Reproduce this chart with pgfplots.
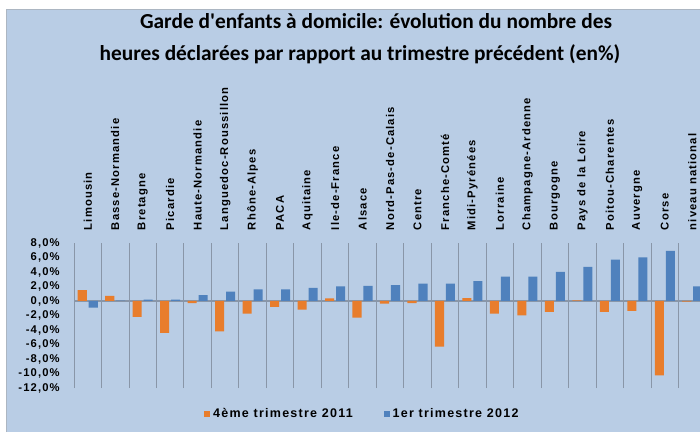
\documentclass[border=0pt]{standalone}
\usepackage{fontspec}
\usepackage{pgfplots}
\pgfplotsset{compat=1.18}
\setmainfont{Liberation Sans}
\newfontfamily\titlefont{Carlito Bold}
\newfontfamily\labfont[LetterSpace=10]{Liberation Sans Bold}

\definecolor{bgblue}{RGB}{185,205,229}
\definecolor{gridgray}{RGB}{137,150,168}
\definecolor{serA}{RGB}{232,125,44}
\definecolor{serB}{RGB}{79,129,189}

\newcommand{\lab}{\labfont\fontsize{8}{9}\selectfont}
\newcommand{\legfont}{\labfont\fontsize{8.9}{10}\selectfont}

\begin{document}
\begin{tikzpicture}
\useasboundingbox (0,0) rectangle (17.5,10.8);
\fill[white] (0,0) rectangle (17.5,10.8);
\fill[bgblue] (0.15,0) rectangle (17.5,10.575);
\draw[gridgray!70, line width=0.6pt] (0.15,0) -- (0.15,10.575) -- (17.5,10.575);

\node[font=\titlefont\fontsize{15.2}{17}\selectfont, anchor=base] at (9.4,10.075)
  {Garde d'enfants à domicile: évolution du nombre des};
\node[font=\titlefont\fontsize{15.2}{17}\selectfont, anchor=base] at (9.0,9.28)
  {heures déclarées par rapport au trimestre précédent (en\%)};

\begin{axis}[
  at={(1.85cm,1.1cm)}, anchor=south west,
  width=15.8cm, height=3.625cm, scale only axis,
  xmin=-0.5, xmax=22.5, ymin=-12, ymax=8,
  axis line style={draw=none},
  major tick length=0pt,
  xtick={0,...,22},
  xticklabels={Limousin, Basse-Normandie, Bretagne, Picardie, Haute-Normandie,
    Languedoc-Roussillon, Rhône-Alpes, PACA, Aquitaine, Ile-de-France, Alsace,
    Nord-Pas-de-Calais, Centre, Franche-Comté, Midi-Pyrénées, Lorraine,
    Champagne-Ardenne, Bourgogne, Pays de la Loire, Poitou-Charentes, Auvergne,
    Corse, niveau national},
  xticklabel pos=upper,
  xticklabel style={rotate=90, anchor=west, inner sep=0pt, font=\lab},
  xticklabel shift=9pt,
  ytick={-12,-10,...,8},
  yticklabels={{-12,0\%},{-10,0\%},{-8,0\%},{-6,0\%},{-4,0\%},{-2,0\%},
    {0,0\%},{2,0\%},{4,0\%},{6,0\%},{8,0\%}},
  yticklabel style={anchor=east, inner sep=0pt, font=\lab, xshift=-10pt},
  extra x ticks={-0.5,0.5,...,22.5},
  extra x tick labels={},
  extra x tick style={grid=major, major grid style={gridgray, line width=0.6pt}},
  extra y ticks={0},
  extra y tick labels={},
  extra y tick style={grid=major, major grid style={gridgray, line width=0.8pt}},
  ybar, bar width=0.33,
  legend style={at={(0.457,-0.179)}, anchor=center, draw=none, fill=none,
    legend columns=2, font=\legfont,
    /tikz/every even column/.append style={column sep=20pt}},
  legend image code/.code={\fill[#1,draw=none] (0pt,-2.1pt) rectangle (4.3pt,2.2pt);},
]
\addplot[fill=serA, draw=none, bar shift=-0.2] coordinates {
  (0,1.5) (1,0.7) (2,-2.2) (3,-4.4) (4,-0.3) (5,-4.2) (6,-1.75) (7,-0.8)
  (8,-1.2) (9,0.35) (10,-2.3) (11,-0.35) (12,-0.3) (13,-6.3) (14,0.4)
  (15,-1.75) (16,-2.0) (17,-1.5) (18,0.1) (19,-1.5) (20,-1.35) (21,-10.25)
  (22,-0.1)};
\addplot[fill=serB, draw=none, bar shift=0.2] coordinates {
  (0,-0.9) (1,0.05) (2,0.2) (3,0.2) (4,0.8) (5,1.3) (6,1.6) (7,1.6)
  (8,1.8) (9,2.0) (10,2.1) (11,2.2) (12,2.4) (13,2.4) (14,2.75)
  (15,3.35) (16,3.35) (17,4.0) (18,4.7) (19,5.7) (20,6.0) (21,6.9)
  (22,2.0)};
\legend{4ème trimestre 2011, 1er trimestre 2012}
\end{axis}
\end{tikzpicture}
\end{document}
